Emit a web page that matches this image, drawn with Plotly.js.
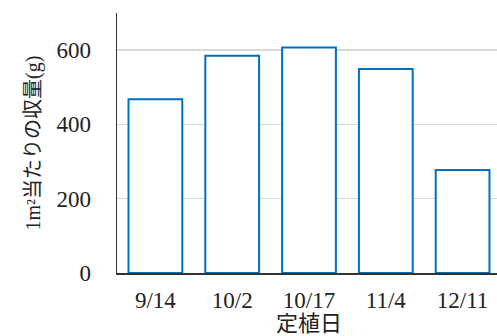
<!DOCTYPE html>
<html><head><meta charset="utf-8">
<script src="https://cdn.plot.ly/plotly-3.0.1.min.js"></script>
<style>html,body{margin:0;padding:0;overflow:hidden;background:#fff}</style>
</head><body><div id="chart" style="width:501px;height:336px"></div>
<script>
const categories = ["9/14", "10/2", "10/17", "11/4", "12/11"];
const yields = [468, 585, 607, 549, 277];
const yTicks = [0, 200, 400, 600];

const fontFam = '"Liberation Serif", "Noto Sans CJK JP", serif';
Plotly.newPlot('chart', [{
  type: 'bar', x: categories, y: yields,
  marker: {color: '#ffffff', line: {color: '#0070C0', width: 2}},
  hoverinfo: 'none'
}], {
  width: 501, height: 336,
  margin: {l: 117, r: 0, t: 13, b: 63},
  bargap: 0.3,
  paper_bgcolor: '#fff', plot_bgcolor: '#fff',
  font: {family: fontFam, size: 22, color: '#222'},
  showlegend: false,
  xaxis: {
    type: 'category', showgrid: false, showline: true, linecolor: '#333', linewidth: 1.5,
    ticks: '', ticklabelstandoff: 6, tickfont: {size: 23},
    title: {text: '定植日', font: {size: 22}, standoff: 4}
  },
  yaxis: {
    range: [0, 700], tickvals: yTicks, ticktext: yTicks.map(String),
    showgrid: true, gridcolor: '#d9d9d9', gridwidth: 1.5, zeroline: false,
    showline: true, linecolor: '#333', linewidth: 1.5,
    ticks: '', ticklabelstandoff: 20, tickfont: {size: 23},
    title: {text: '1m²当たりの収量(g)', font: {size: 20}, standoff: 10}
  }
}, {staticPlot: true});
</script></body></html>
